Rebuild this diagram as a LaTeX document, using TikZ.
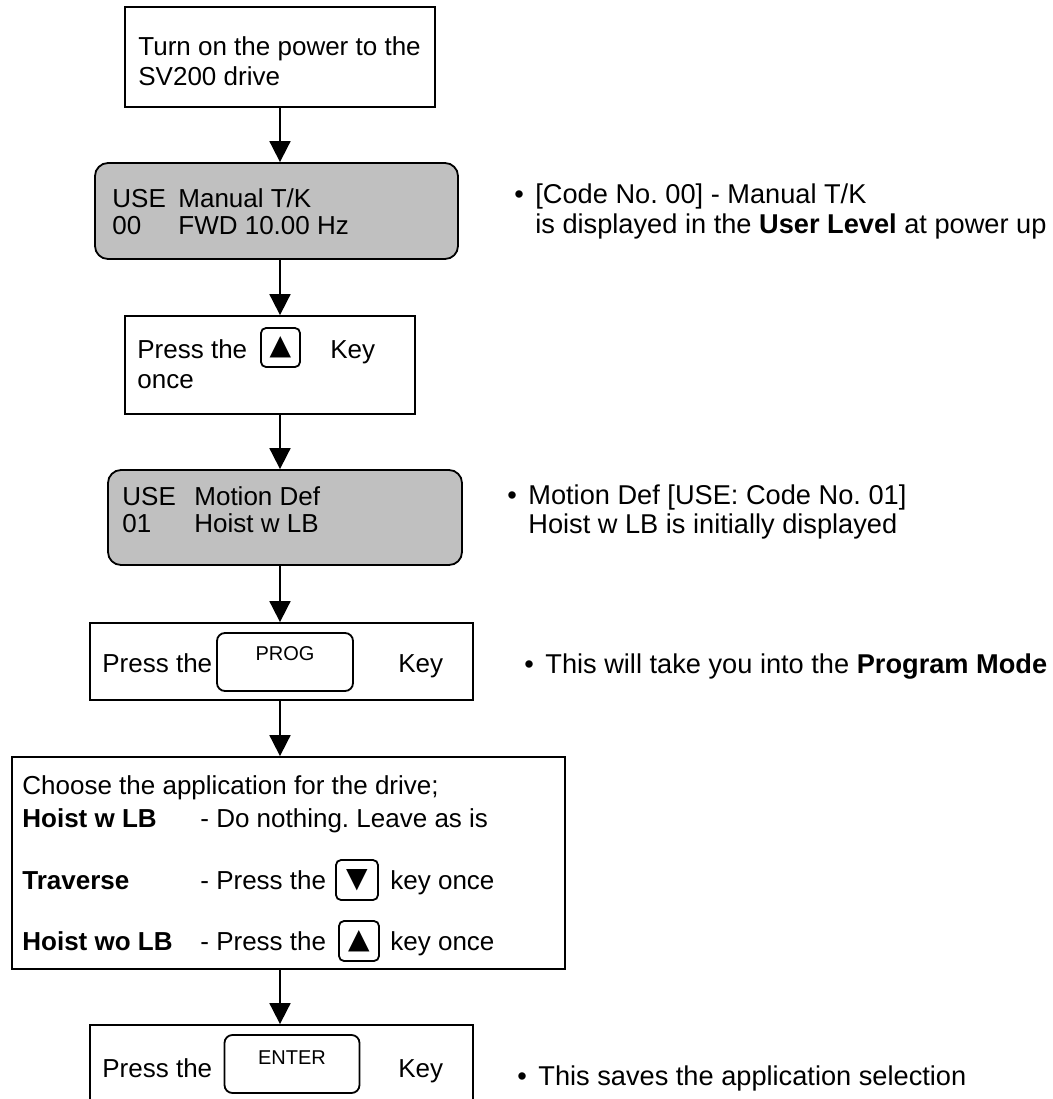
\documentclass[tikz,border=0pt]{standalone}
\usepackage{fontspec}
\setmainfont{Liberation Sans}
\newfontfamily\symbolfont{DejaVu Sans}
\usetikzlibrary{arrows.meta}
\definecolor{lcdgray}{RGB}{192,192,192}
\frenchspacing
\tikzset{
  stepbox/.style={draw, line width=0.9pt, inner sep=0pt},
  lcdbox/.style={stepbox, fill=lcdgray, rounded corners=6.5pt},
  keybox/.style={draw, line width=0.9pt, rounded corners=2.5pt, inner sep=0pt},
  txt/.style={anchor=base west, inner sep=0pt},
  notetxt/.style={txt, font=\fontsize{13.6}{16}\selectfont},
  flow/.style={line width=0.9pt, -{Triangle[length=10.5pt,width=10.5pt]}},
}
\newcommand{\keyup}{{\symbolfont\fontsize{14}{14}\selectfont ▲}}
\newcommand{\keydown}{{\symbolfont\fontsize{14}{14}\selectfont ▼}}
\begin{document}
\begin{tikzpicture}[x=0.5pt, y=-0.5pt, font=\fontsize{13}{15}\selectfont]
  \useasboundingbox (0,0) rectangle (1053,1099);
  \coordinate (spine) at (280,0);

  % steps
  \node [stepbox, minimum width=155pt, minimum height=50pt] (power) at (280,57) {};
  \node [lcdbox, minimum width=181.5pt, minimum height=48pt] (lcd1) at (276.5,211) {};
  \node [stepbox, minimum width=145pt, minimum height=49pt] (press1) at (270,365) {};
  \node [lcdbox, minimum width=177pt, minimum height=47.5pt] (lcd2) at (285,517.5) {};
  \node [stepbox, minimum width=191.5pt, minimum height=38.5pt] (press2) at (281.5,661.5) {};
  \node [stepbox, minimum width=276.5pt, minimum height=106pt] (choose) at (288.5,863) {};
  \node [stepbox, minimum width=191.5pt, minimum height=50pt] (press3) at (281.5,1075) {};

  % keys
  \node [keybox, minimum width=19.5pt, minimum height=19.5pt] (upkey) at (280.5,347.5) {\keyup};
  \node [keybox, rounded corners=4pt, minimum width=68pt, minimum height=29pt] (progkey) at (285,662) {};
  \node [font=\fontsize{10}{12}\selectfont] (progtxt) at (285,654) {PROG};
  \node [keybox, minimum width=21pt, minimum height=20pt] (downkey2) at (357,880) {\keydown};
  \node [keybox, minimum width=20pt, minimum height=20pt] (upkey2) at (359,941) {\keyup};
  \node [keybox, rounded corners=4pt, minimum width=67.5pt, minimum height=29pt] (enterkey) at (292,1064) {};
  \node [font=\fontsize{10}{12}\selectfont] (entertxt) at (292,1058) {ENTER};

  % texts in the steps
  \node [txt] (power1) at (138,55) {Turn on the power to the};
  \node [txt] (power2) at (138,85) {SV200 drive};
  \node [txt] (lcd1a) at (112,207) {USE};
  \node [txt] (lcd1b) at (178,207) {Manual T/K};
  \node [txt] (lcd1c) at (112,234) {00};
  \node [txt] (lcd1d) at (178,234) {FWD 10.00 Hz};
  \node [txt] (press1a) at (137,358) {Press the};
  \node [txt] (press1b) at (330,358) {Key};
  \node [txt] (press1c) at (137,388) {once};
  \node [txt] (lcd2a) at (122,505) {USE};
  \node [txt] (lcd2b) at (194,505) {Motion Def};
  \node [txt] (lcd2c) at (122,532) {01};
  \node [txt] (lcd2d) at (194,532) {Hoist w LB};
  \node [txt] (press2a) at (102,672) {Press the};
  \node [txt] (press2b) at (398,672) {Key};
  \node [txt] (choose1) at (22,794) {Choose the application for the drive;};
  \node [txt] (choose2) at (22,827) {\textbf{Hoist w LB}};
  \node [txt] (choose3) at (200,827) {- Do nothing. Leave as is};
  \node [txt] (choose4) at (22,889) {\textbf{Traverse}};
  \node [txt] (choose5) at (200,889) {- Press the};
  \node [txt] (choose6) at (390,889) {key once};
  \node [txt] (choose7) at (22,950) {\textbf{Hoist wo LB}};
  \node [txt] (choose8) at (200,950) {- Press the};
  \node [txt] (choose9) at (390,950) {key once};
  \node [txt] (press3a) at (102,1077) {Press the};
  \node [txt] (press3b) at (398,1077) {Key};

  % notes
  \node [notetxt] (dot1) at (514,203) {•};
  \node [notetxt] (note1a) at (535,203) {[Code No. 00] - Manual T/K};
  \node [notetxt] (note1b) at (535,233) {is displayed in the \textbf{User Level} at power up};
  \node [notetxt] (dot2) at (507,504) {•};
  \node [notetxt] (note2a) at (528,504) {Motion Def [USE: Code No. 01]};
  \node [notetxt] (note2b) at (528,533) {Hoist w LB is initially displayed};
  \node [notetxt] (dot3) at (524,673) {•};
  \node [notetxt] (note3) at (545,673) {This will take you into the \textbf{Program Mode}};
  \node [notetxt] (dot4) at (517,1085) {•};
  \node [notetxt] (note4) at (538,1085) {This saves the application selection};

  % arrows
  \draw [flow] (spine |- power.south) -- (spine |- lcd1.north);
  \draw [flow] (spine |- lcd1.south) -- (spine |- press1.north);
  \draw [flow] (spine |- press1.south) -- (spine |- lcd2.north);
  \draw [flow] (spine |- lcd2.south) -- (spine |- press2.north);
  \draw [flow] (spine |- press2.south) -- (spine |- choose.north);
  \draw [flow] (spine |- choose.south) -- (spine |- press3.north);
\end{tikzpicture}
\end{document}
